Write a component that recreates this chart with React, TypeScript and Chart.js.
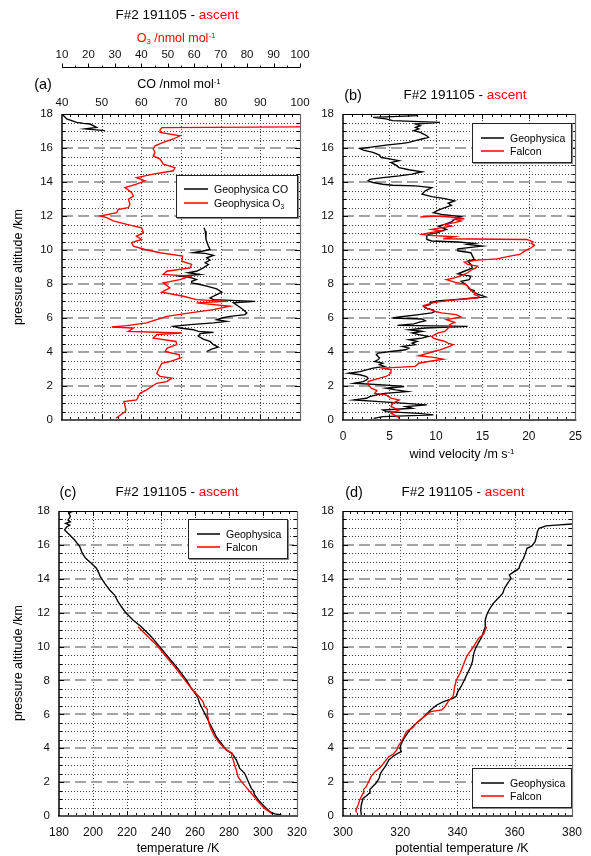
import React, { useEffect, useRef } from 'react';
import { Chart, registerables } from 'chart.js';
Chart.register(...registerables);

const FONT = '"Liberation Sans", Arial, Helvetica, sans-serif';

// ---------- Panel (a): CO and O3 profiles [altitude km, value] ----------
const o3Profile: [number, number][] = [
  [0.10, 30.4], [0.49, 33.8], [0.59, 34.2], [1.08, 33.4], [1.18, 38.2], [1.57, 39.5], [1.77, 42.0],
  [2.16, 45.8], [2.26, 49.6], [2.46, 51.5], [2.56, 47.1], [2.75, 45.8], [3.15, 47.1], [3.34, 47.7],
  [3.44, 50.8], [3.64, 54.6], [3.84, 54.4], [4.03, 49.0], [4.23, 49.8], [4.43, 53.4], [4.62, 53.1],
  [4.82, 44.5], [5.02, 45.8], [5.12, 55.3], [5.21, 35.1], [5.41, 37.0], [5.47, 28.8], [5.55, 34.5],
  [5.71, 42.0], [5.90, 45.8], [6.10, 49.6], [6.30, 58.4], [6.49, 67.2], [6.69, 73.5], [6.89, 60.9],
  [6.98, 72.3], [7.08, 60.9], [7.28, 55.9], [7.52, 47.7], [7.77, 50.8], [8.07, 48.3], [8.26, 54.6],
  [8.46, 58.4], [8.56, 48.3], [8.75, 49.6], [8.95, 58.4], [9.15, 59.0], [9.34, 55.3], [9.64, 55.6],
  [9.84, 47.1], [10.03, 41.4], [10.23, 37.0], [10.43, 36.3], [10.62, 40.1], [10.82, 38.2], [11.02, 40.8],
  [11.31, 40.1], [11.51, 34.5], [11.71, 29.4], [11.90, 26.9], [12.00, 24.4], [12.20, 30.7], [12.39, 31.3],
  [12.49, 35.1], [12.69, 35.7], [12.98, 35.1], [13.18, 37.0], [13.38, 36.3], [13.67, 33.8], [13.87, 38.2],
  [14.07, 41.4], [14.26, 38.2], [14.46, 44.5], [14.66, 52.1], [14.85, 52.7], [15.05, 48.3], [15.35, 47.1],
  [15.54, 44.5], [15.74, 45.2], [15.94, 44.5], [16.13, 45.2], [16.33, 48.3], [16.53, 52.1], [16.72, 54.6],
  [16.92, 47.1], [17.08, 47.1], [17.20, 47.8], [17.25, 108],
];
const coLower: [number, number][] = [
  [11.31, 75.8], [11.12, 76.1], [10.62, 76.3], [10.23, 76.9], [10.03, 77.3], [9.94, 75.5], [9.84, 73.1],
  [9.80, 76.1], [9.68, 78.2], [9.54, 76.5], [9.40, 77.3], [9.25, 76.1], [9.15, 76.9], [8.95, 75.6],
  [8.75, 73.9], [8.66, 71.8], [8.56, 74.8], [8.46, 69.7], [8.36, 72.7], [8.26, 73.9], [8.16, 72.7],
  [8.07, 72.7], [7.97, 74.8], [7.87, 76.5], [7.71, 79.0], [7.52, 80.3], [7.38, 79.0], [7.18, 77.3],
  [7.08, 78.2], [6.98, 88.7], [6.89, 83.2], [6.69, 84.5], [6.49, 85.7], [6.30, 86.6], [6.20, 86.1],
  [6.10, 82.4], [6.00, 80.3], [5.90, 79.0], [5.80, 81.5], [5.71, 78.2], [5.61, 72.3], [5.51, 68.1],
  [5.41, 69.7], [5.31, 73.1], [5.21, 74.4], [5.15, 78.2], [5.08, 74.8], [4.92, 74.4], [4.76, 75.6],
  [4.62, 77.3], [4.43, 78.2], [4.29, 79.4], [4.17, 77.7], [4.03, 76.5],
];
const coUpper: [number, number][] = [
  [18.0, 40.0], [17.71, 41.2], [17.51, 43.7], [17.45, 45.4], [17.41, 47.1], [17.21, 48.7],
  [17.12, 45.8], [17.02, 50.8],
];

// ---------- Panel (b): wind velocity [altitude km, m/s] ----------
const windGeophysica: [number, number][] = [
  [0.10, 3.30], [0.20, 4.28], [0.30, 9.73], [0.39, 8.15], [0.49, 4.63], [0.59, 4.28], [0.69, 7.44],
  [0.79, 6.74], [0.89, 9.02], [0.98, 6.74], [1.08, 3.93], [1.18, 1.19], [1.28, 2.53], [1.38, 2.88],
  [1.48, 3.58], [1.57, 4.46], [1.67, 6.92], [1.77, 5.69], [1.87, 4.63], [1.97, 6.57], [2.07, 4.28],
  [2.16, 1.19], [2.26, 2.18], [2.36, 2.53], [2.46, 2.70], [2.56, 2.53], [2.66, 1.83], [2.75, 0.60],
  [2.85, 1.83], [2.95, 2.53], [3.05, 3.23], [3.15, 4.46], [3.25, 3.93], [3.34, 4.28], [3.44, 3.41],
  [3.54, 3.76], [3.64, 3.93], [3.84, 3.58], [3.93, 3.76], [4.03, 5.16], [4.13, 6.74], [4.23, 7.09],
  [4.33, 6.39], [4.43, 7.79], [4.52, 7.44], [4.62, 7.97], [4.72, 7.09], [4.82, 8.50], [4.92, 9.20],
  [5.02, 8.15], [5.12, 7.44], [5.21, 8.50], [5.31, 7.09], [5.41, 8.85], [5.51, 13.41], [5.57, 5.86],
  [5.65, 7.62], [5.74, 8.15], [5.84, 8.85], [5.94, 8.50], [6.00, 5.34], [6.06, 6.04], [6.20, 8.15],
  [6.30, 9.55], [6.39, 9.90], [6.49, 9.55], [6.59, 8.85], [6.69, 8.67], [6.79, 9.38], [6.92, 9.38],
  [7.02, 10.43], [7.08, 12.01], [7.16, 13.76], [7.24, 15.34], [7.38, 14.64], [7.48, 14.12], [7.61, 14.12],
  [7.71, 13.59], [7.87, 13.41], [8.03, 13.06], [8.16, 12.71], [8.26, 13.59], [8.46, 13.76], [8.60, 12.36],
  [8.75, 13.06], [8.95, 13.94], [9.15, 13.76], [9.34, 13.41], [9.44, 14.12], [9.64, 13.94], [9.84, 13.76],
  [9.94, 12.36], [10.07, 12.36], [10.23, 14.99], [10.33, 13.41], [10.39, 14.12], [10.47, 12.36], [10.53, 9.55],
  [10.62, 9.02], [10.82, 9.02], [10.92, 9.20], [11.02, 10.25], [11.12, 10.60], [11.21, 11.13], [11.41, 10.25],
  [11.51, 10.96], [11.65, 11.66], [11.80, 12.01], [11.96, 12.71], [12.10, 10.60], [12.20, 9.73], [12.35, 10.25],
  [12.49, 10.96], [12.63, 11.66], [12.75, 11.31], [12.89, 12.01], [13.02, 10.96], [13.14, 9.55], [13.28, 8.50],
  [13.48, 8.85], [13.67, 9.55], [13.77, 7.79], [13.81, 5.34], [13.87, 4.28], [13.97, 3.23], [14.07, 2.70],
  [14.16, 2.88], [14.26, 4.28], [14.36, 6.04], [14.46, 7.44], [14.56, 8.15], [14.60, 8.50], [14.72, 7.09],
  [14.85, 6.04], [14.99, 5.69], [15.15, 5.16], [15.25, 6.04], [15.35, 5.16], [15.44, 4.11], [15.58, 3.93],
  [15.74, 3.23], [15.88, 2.18], [15.97, 1.83], [16.07, 3.23], [16.17, 4.63], [16.27, 6.39], [16.33, 7.09],
  [16.43, 7.79], [16.53, 8.50], [16.62, 9.20], [16.72, 9.02], [16.82, 8.67], [16.92, 8.32], [17.02, 7.62],
  [17.12, 8.15], [17.21, 7.79], [17.31, 8.32], [17.41, 7.79], [17.51, 10.43], [17.61, 5.34], [17.71, 4.63],
  [17.80, 3.23], [17.90, 7.97], [18.00, 7.97],
];
const windFalcon: [number, number][] = [
  [0.10, 6.04], [0.20, 5.86], [0.39, 5.16], [0.59, 6.04], [0.79, 5.16], [0.98, 5.34], [1.18, 6.04],
  [1.28, 5.16], [1.48, 4.63], [1.57, 3.41], [1.73, 3.65], [1.87, 3.05], [2.07, 2.70], [2.26, 2.70],
  [2.40, 3.58], [2.56, 4.63], [2.75, 5.16], [2.95, 5.16], [3.05, 4.28], [3.15, 7.79], [3.25, 7.97],
  [3.34, 8.15], [3.44, 9.20], [3.58, 10.78], [3.68, 9.73], [3.78, 8.15], [3.90, 9.02], [4.03, 9.73],
  [4.13, 10.43], [4.33, 11.48], [4.43, 11.83], [4.52, 11.31], [4.62, 10.96], [4.72, 10.25], [4.82, 9.73],
  [4.92, 9.55], [5.02, 9.90], [5.12, 10.25], [5.21, 10.96], [5.41, 11.31], [5.51, 11.66], [5.61, 11.48],
  [5.74, 12.01], [5.90, 11.13], [6.06, 12.71], [6.20, 12.18], [6.30, 10.60], [6.39, 9.90], [6.53, 9.20],
  [6.63, 8.85], [6.73, 8.67], [6.85, 9.38], [6.92, 9.90], [7.02, 11.31], [7.12, 13.06], [7.18, 14.47],
  [7.28, 14.64], [7.38, 14.12], [7.48, 14.29], [7.61, 13.76], [7.77, 13.59], [7.97, 13.24], [8.11, 12.01],
  [8.26, 11.13], [8.36, 12.01], [8.50, 12.71], [8.66, 13.41], [8.81, 13.76], [8.95, 14.29], [9.05, 14.47],
  [9.15, 13.41], [9.29, 13.06], [9.40, 14.47], [9.48, 16.57], [9.64, 17.98], [9.74, 19.03], [9.88, 19.38],
  [9.99, 19.73], [10.13, 20.26], [10.27, 20.61], [10.39, 20.26], [10.47, 20.44], [10.56, 20.08], [10.62, 19.73],
  [10.66, 10.78], [10.78, 12.01], [10.86, 9.20], [10.92, 8.50], [11.02, 9.38], [11.12, 10.60], [11.21, 9.55],
  [11.31, 10.60], [11.41, 11.66], [11.51, 10.96], [11.61, 12.01], [11.71, 12.71], [11.80, 12.01], [11.84, 13.06],
  [11.94, 11.66], [12.00, 9.90], [11.94, 8.32],
];

// ---------- Panel (c): temperature [altitude km, K] ----------
const tempGeophysica: [number, number][] = [
  [0.06, 310.8], [0.12, 306.9], [0.26, 303.9], [0.55, 301.0], [0.85, 298.0], [1.24, 295.1], [1.53, 294.1],
  [1.63, 293.1], [1.93, 291.8], [2.52, 289.2], [2.81, 286.3], [3.31, 284.3], [3.60, 282.4], [3.70, 281.4],
  [3.90, 278.4], [4.29, 275.5], [4.68, 272.5], [5.08, 270.6], [5.47, 268.6], [5.86, 266.7], [6.26, 264.7],
  [6.65, 262.7], [6.94, 261.8], [7.14, 260.8], [7.54, 257.8], [8.03, 254.9], [8.42, 252.0], [8.81, 249.0],
  [9.40, 244.1], [10.0, 239.2], [10.58, 234.3], [11.17, 228.4], [11.57, 223.5], [11.96, 219.6], [12.35, 216.7],
  [12.65, 214.7], [13.04, 212.7], [13.34, 209.8], [13.73, 206.9], [14.13, 204.3], [14.32, 203.5], [14.62, 202.0],
  [14.91, 199.0], [15.21, 195.7], [15.50, 193.7], [15.90, 192.2], [16.29, 189.2], [16.58, 186.3], [16.88, 183.3],
  [17.04, 184.3], [17.17, 186.3], [17.27, 183.9], [17.37, 186.7], [17.47, 185.3], [17.67, 186.7], [17.86, 185.9],
  [17.96, 187.3], [18.0, 191.2],
];
const tempFalcon: [number, number][] = [
  [0.12, 305.5], [0.16, 304.9], [0.45, 301.0], [0.85, 297.1], [1.34, 293.1], [1.73, 289.8], [2.03, 287.3],
  [2.32, 285.3], [2.71, 284.3], [3.01, 283.3], [3.34, 282.4], [3.50, 281.4], [3.70, 282.0], [3.90, 278.4],
  [4.29, 274.5], [4.68, 271.6], [5.08, 269.6], [5.47, 268.2], [5.86, 267.6], [6.30, 267.3], [6.45, 265.7],
  [6.75, 264.7], [7.04, 262.4], [7.54, 257.8], [8.03, 253.9], [8.42, 251.0], [8.81, 248.0], [9.40, 243.1],
  [10.0, 238.2], [10.39, 234.3], [10.68, 231.4], [10.98, 228.4], [11.17, 226.5],
];

// ---------- Panel (d): potential temperature [altitude km, K] ----------
const thetaGeophysica: [number, number][] = [
  [0.06, 306.4], [0.35, 306.2], [0.65, 306.4], [1.04, 307.0], [1.18, 308.1], [1.34, 309.2], [1.57, 309.4],
  [1.73, 310.3], [1.93, 311.5], [2.22, 312.6], [2.52, 313.1], [2.81, 314.3], [3.01, 315.1], [3.31, 316.0],
  [3.54, 317.6], [3.70, 319.1], [3.80, 320.4], [3.99, 319.9], [4.19, 320.2], [4.49, 321.0], [4.78, 322.1],
  [5.08, 323.3], [5.37, 324.9], [5.67, 327.0], [5.96, 328.9], [6.26, 330.6], [6.55, 332.8], [6.75, 335.1],
  [6.94, 338.4], [7.08, 339.6], [7.34, 340.1], [7.63, 341.2], [8.03, 342.4], [8.42, 343.5], [8.81, 344.6],
  [9.11, 345.2], [9.60, 345.7], [9.90, 346.3], [10.19, 347.2], [10.58, 348.5], [11.17, 349.7], [11.57, 349.7],
  [11.86, 350.2], [12.16, 351.0], [12.55, 352.5], [12.85, 354.2], [13.14, 355.8], [13.44, 356.4], [13.73, 357.5],
  [14.03, 358.7], [14.22, 358.1], [14.42, 359.8], [14.62, 361.5], [14.91, 362.0], [15.21, 363.1], [15.50, 363.7],
  [15.80, 364.3], [15.94, 366.0], [16.19, 367.1], [16.49, 367.6], [16.78, 367.9], [16.98, 368.5], [17.12, 371.0],
  [17.17, 374.4], [17.23, 380.0], [17.27, 386.0],
];
const thetaFalcon: [number, number][] = [
  [0.20, 304.7], [0.35, 304.5], [0.65, 305.3], [0.94, 305.8], [1.14, 306.4], [1.34, 307.0], [1.57, 307.2],
  [1.73, 308.1], [1.93, 308.7], [2.32, 309.8], [2.62, 311.2], [2.81, 312.6], [3.01, 313.7], [3.31, 315.1],
  [3.50, 316.0], [3.66, 317.6], [3.90, 318.8], [4.13, 319.3], [4.39, 320.4], [4.68, 321.3], [4.98, 322.1],
  [5.23, 324.4], [5.57, 326.1], [5.86, 328.3], [6.16, 330.6], [6.26, 334.5], [6.45, 335.6], [6.75, 336.7],
  [7.04, 338.4], [7.24, 338.7], [7.63, 339.0], [8.03, 339.6], [8.42, 340.9], [8.81, 341.8], [9.21, 342.7],
  [9.50, 343.5], [9.90, 345.2], [10.19, 346.3], [10.49, 347.4], [10.72, 349.1], [10.98, 349.7], [11.17, 350.2],
];

// axis ranges
const altRange = [0, 18];
const coRange = [40, 100];
const o3Range = [10, 100];
const windRange = [0, 25];
const tempRange = [180, 320];
const thetaRange = [300, 380];

const pts = (p: [number, number][]) => p.map(([alt, v]) => ({ x: v, y: alt }));

type FrameOpts = { xMajor: number; xMinor: number; o3Axis?: boolean };

function sigmaFrame(o: FrameOpts) {
  return {
    id: 'sigmaFrame',
    beforeDatasetsDraw(chart: any) {
      const { ctx, chartArea: a } = chart;
      const xs = chart.scales.x;
      const ys = chart.scales.y;
      ctx.save();
      const nMaj = Math.round((xs.max - xs.min) / o.xMajor);
      for (let i = 1; i < nMaj; i++) {
        const px = Math.round(xs.getPixelForValue(xs.min + i * o.xMajor)) + 0.5;
        ctx.beginPath();
        ctx.setLineDash([1, 2]);
        ctx.strokeStyle = '#444';
        ctx.lineWidth = 1;
        ctx.moveTo(px, a.top);
        ctx.lineTo(px, a.bottom);
        ctx.stroke();
      }
      for (let k = 1; k * 0.5 < ys.max; k++) {
        const py = ys.getPixelForValue(k * 0.5);
        ctx.beginPath();
        if (k % 4 === 0) {
          ctx.setLineDash([11, 5]);
          ctx.strokeStyle = '#a4a4a4';
          ctx.lineWidth = 2;
          ctx.moveTo(a.left, Math.round(py));
          ctx.lineTo(a.right, Math.round(py));
        } else {
          ctx.setLineDash([1, 2]);
          ctx.strokeStyle = '#444';
          ctx.lineWidth = 1;
          ctx.moveTo(a.left, Math.round(py) + 0.5);
          ctx.lineTo(a.right, Math.round(py) + 0.5);
        }
        ctx.stroke();
      }
      ctx.restore();
    },
    afterDatasetsDraw(chart: any) {
      const { ctx, chartArea: a } = chart;
      const xs = chart.scales.x;
      const ys = chart.scales.y;
      ctx.save();
      ctx.setLineDash([]);
      ctx.strokeStyle = '#000';
      ctx.lineWidth = 1;
      ctx.beginPath();
      for (let k = 1; k * 0.5 < ys.max; k++) {
        const py = Math.round(ys.getPixelForValue(k * 0.5)) + 0.5;
        const len = k % 4 === 0 ? 5 : 3;
        ctx.moveTo(a.left, py); ctx.lineTo(a.left + len, py);
        ctx.moveTo(a.right, py); ctx.lineTo(a.right - len, py);
      }
      const n = Math.round((xs.max - xs.min) / o.xMinor);
      for (let i = 1; i < n; i++) {
        const v = xs.min + i * o.xMinor;
        const px = Math.round(xs.getPixelForValue(v)) + 0.5;
        const r = v / o.xMajor;
        const len = Math.abs(r - Math.round(r)) < 1e-6 ? 5 : 3;
        ctx.moveTo(px, a.top); ctx.lineTo(px, a.top + len);
        ctx.moveTo(px, a.bottom); ctx.lineTo(px, a.bottom - len);
      }
      ctx.stroke();
      ctx.beginPath();
      ctx.strokeStyle = '#000';
      ctx.lineWidth = 1;
      ctx.moveTo(a.left, Math.round(a.top) + 0.5); ctx.lineTo(a.right, Math.round(a.top) + 0.5);
      ctx.stroke();
      ctx.beginPath();
      ctx.strokeStyle = '#6a6a6a';
      ctx.lineWidth = 1.2;
      ctx.moveTo(Math.round(a.right) + 0.5, a.top); ctx.lineTo(Math.round(a.right) + 0.5, a.bottom);
      ctx.stroke();
      ctx.beginPath();
      ctx.strokeStyle = '#555';
      ctx.lineWidth = 2;
      ctx.moveTo(a.left - 1, Math.round(a.bottom)); ctx.lineTo(a.right + 1, Math.round(a.bottom));
      ctx.stroke();
      ctx.beginPath();
      ctx.strokeStyle = '#000';
      ctx.lineWidth = 1.5;
      ctx.moveTo(Math.round(a.left), a.top); ctx.lineTo(Math.round(a.left), a.bottom);
      ctx.stroke();
      if (o.o3Axis) {
        const x2 = chart.scales.x2;
        const yb = Math.round(x2.bottom) + 0.5;
        ctx.beginPath();
        ctx.strokeStyle = '#000';
        ctx.lineWidth = 1;
        ctx.moveTo(a.left, yb); ctx.lineTo(a.right, yb);
        for (let v = x2.min; v <= x2.max + 1e-6; v += 5) {
          const px = Math.round(x2.getPixelForValue(v)) + 0.5;
          const len = Math.abs(v % 10) < 1e-6 ? 4 : 2;
          ctx.moveTo(px, yb); ctx.lineTo(px, yb - len);
        }
        ctx.stroke();
      }
      ctx.restore();
    },
  };
}

const tickFont = (size: number) => ({ family: FONT, size });

function yScale(width: number) {
  return {
    type: 'linear', position: 'left', min: altRange[0], max: altRange[1],
    ticks: { stepSize: 2, font: tickFont(11.5), color: '#111', padding: 9 },
    grid: { display: false, drawTicks: false },
    border: { display: false },
    afterFit: (s: any) => { s.width = width; },
  };
}

function xBottom(range: number[], step: number) {
  return {
    type: 'linear', position: 'bottom', min: range[0], max: range[1],
    ticks: { stepSize: step, font: tickFont(12), color: '#111', padding: 9, maxRotation: 0, autoSkip: false },
    grid: { display: false, drawTicks: false },
    border: { display: false },
    afterFit: (s: any) => { s.height = 40; },
  };
}

const lineDs = (data: any[], color: string, extra: any = {}) => ({
  data, borderColor: color, backgroundColor: color, borderWidth: 1.35, pointRadius: 0,
  showLine: true, fill: false, tension: 0, ...extra,
});

const baseOpts = (padding: any) => ({
  responsive: false,
  animation: false,
  devicePixelRatio: 1,
  events: [],
  layout: { padding },
  plugins: { legend: { display: false }, tooltip: { enabled: false }, title: { display: false } },
});

function configA(): any {
  return {
    type: 'scatter',
    data: {
      datasets: [
        lineDs(pts(o3Profile), '#ff0000', { xAxisID: 'x2' }),
        lineDs(pts(coLower), '#000000'),
        lineDs(pts(coUpper), '#000000'),
      ],
    },
    options: {
      ...baseOpts({ left: 0, top: 0, right: 20, bottom: 20 }),
      scales: {
        x: {
          type: 'linear', position: 'top', min: coRange[0], max: coRange[1], weight: 0,
          ticks: { stepSize: 10, font: tickFont(11.5), color: '#111', padding: 4, maxRotation: 0, autoSkip: false },
          grid: { display: false, drawTicks: false }, border: { display: false },
          afterFit: (s: any) => { s.height = 47; },
        },
        x2: {
          type: 'linear', position: 'top', axis: 'x', min: o3Range[0], max: o3Range[1], weight: 1,
          ticks: { stepSize: 10, font: tickFont(11.5), color: '#111', padding: 5, maxRotation: 0, autoSkip: false },
          grid: { display: false, drawTicks: false }, border: { display: false },
          afterFit: (s: any) => { s.height = 67; },
        },
        y: yScale(62),
      },
    },
    plugins: [sigmaFrame({ xMajor: 10, xMinor: 2, o3Axis: true })],
  };
}

function configB(): any {
  return {
    type: 'scatter',
    data: { datasets: [lineDs(pts(windFalcon), '#ff0000'), lineDs(pts(windGeophysica), '#000000')] },
    options: {
      ...baseOpts({ left: 0, top: 34, right: 11, bottom: 0 }),
      scales: { x: xBottom(windRange, 5), y: yScale(42) },
    },
    plugins: [sigmaFrame({ xMajor: 5, xMinor: 1 })],
  };
}

function configC(): any {
  return {
    type: 'scatter',
    data: { datasets: [lineDs(pts(tempFalcon), '#ff0000'), lineDs(pts(tempGeophysica), '#000000')] },
    options: {
      ...baseOpts({ left: 0, top: 41, right: 23, bottom: 0 }),
      scales: { x: xBottom(tempRange, 20), y: yScale(59) },
    },
    plugins: [sigmaFrame({ xMajor: 20, xMinor: 5 })],
  };
}

function configD(): any {
  return {
    type: 'scatter',
    data: { datasets: [lineDs(pts(thetaFalcon), '#ff0000'), lineDs(pts(thetaGeophysica), '#000000')] },
    options: {
      ...baseOpts({ left: 0, top: 41, right: 11, bottom: 0 }),
      scales: { x: xBottom(thetaRange, 20), y: yScale(42) },
    },
    plugins: [sigmaFrame({ xMajor: 20, xMinor: 2.5 })],
  };
}

function Panel({ left, top, width, height, make }: { left: number; top: number; width: number; height: number; make: () => any }) {
  const ref = useRef<HTMLCanvasElement>(null);
  useEffect(() => {
    const chart = new Chart(ref.current as HTMLCanvasElement, make());
    return () => chart.destroy();
  }, []);
  return (
    <canvas ref={ref} width={width} height={height}
      style={{ position: 'absolute', left, top, width, height }} />
  );
}

function T({ x, y, size, color = '#000', rotate = false, children }: any) {
  return (
    <div style={{
      position: 'absolute', left: x, top: y, transform: `translate(-50%, -50%)${rotate ? ' rotate(-90deg)' : ''}`,
      fontFamily: FONT, fontSize: size, lineHeight: 1, whiteSpace: 'nowrap', color,
    }}>{children}</div>
  );
}

const Sup = ({ children }: any) => (
  <span style={{ fontSize: '0.62em', position: 'relative', top: '-0.55em' }}>{children}</span>
);
const Sub = ({ children }: any) => (
  <span style={{ fontSize: '0.62em', position: 'relative', top: '0.3em' }}>{children}</span>
);

function Title({ x, y }: { x: number; y: number }) {
  return <T x={x} y={y} size={13.5}>F#2 191105 - <span style={{ color: '#ff0000' }}>ascent</span></T>;
}

function Legend({ left, top, width, height, rows, rowY, lineX, textX }: any) {
  return (
    <div style={{
      position: 'absolute', left, top, width, height, boxSizing: 'border-box', background: '#fff',
      border: '1px solid #222', boxShadow: '1px 1px 0 #888',
    }}>
      {rows.map((r: any, i: number) => (
        <React.Fragment key={i}>
          <svg width={lineX[1] - lineX[0]} height={4}
            style={{ position: 'absolute', left: lineX[0], top: rowY[i] - 2, overflow: 'visible' }}>
            <line x1={0} y1={2} x2={lineX[1] - lineX[0]} y2={2} stroke={r.color} strokeWidth={1.5} />
          </svg>
          <div style={{
            position: 'absolute', left: textX, top: rowY[i], transform: 'translateY(-50%)', fontFamily: FONT,
            fontSize: 10.5, lineHeight: 1, whiteSpace: 'nowrap', color: '#000',
          }}>{r.label}</div>
        </React.Fragment>
      ))}
    </div>
  );
}

export default function App() {
  const units = <>/nmol mol<Sup>-1</Sup></>;
  return (
    <div style={{ position: 'absolute', left: 0, top: 0, width: 591, height: 856, background: '#fff', overflow: 'hidden' }}>
      <Panel left={0} top={0} width={320} height={440} make={configA} />
      <Panel left={301} top={80} width={290} height={380} make={configB} />
      <Panel left={0} top={470} width={320} height={386} make={configC} />
      <Panel left={301} top={470} width={290} height={386} make={configD} />

      <Title x={177} y={15} />
      <T x={176} y={38} size={12.5} color="#ff0000">O<Sub>3</Sub> {units}</T>
      <T x={43} y={84} size={14.5}>(a)</T>
      <T x={179} y={84} size={12.5}>CO {units}</T>
      <T x={18} y={267} size={12.5} rotate>pressure altitude /km</T>

      <T x={353} y={95} size={14.5}>(b)</T>
      <Title x={465} y={95} />
      <T x={462} y={454} size={12.5}>wind velocity /m s<Sup>-1</Sup></T>

      <T x={68} y={492} size={14.5}>(c)</T>
      <Title x={177} y={492} />
      <T x={18} y={663} size={12.5} rotate>pressure altitude /km</T>
      <T x={178} y={848} size={12.5}>temperature /K</T>

      <T x={354} y={492} size={14.5}>(d)</T>
      <Title x={463} y={492} />
      <T x={462} y={848} size={12.5}>potential temperature /K</T>

      <Legend left={176} top={175} width={122} height={43} rowY={[13, 27]} lineX={[7, 31]} textX={37}
        rows={[{ color: '#000', label: 'Geophysica CO' }, { color: '#ff0000', label: <>Geophysica O<Sub>3</Sub></> }]} />
      <Legend left={472} top={123} width={100} height={40} rowY={[14, 27]} lineX={[8, 31]} textX={37}
        rows={[{ color: '#000', label: 'Geophysica' }, { color: '#ff0000', label: 'Falcon' }]} />
      <Legend left={188} top={519} width={100} height={40} rowY={[14, 27]} lineX={[8, 31]} textX={37}
        rows={[{ color: '#000', label: 'Geophysica' }, { color: '#ff0000', label: 'Falcon' }]} />
      <Legend left={472} top={768} width={100} height={40} rowY={[14, 27]} lineX={[8, 31]} textX={37}
        rows={[{ color: '#000', label: 'Geophysica' }, { color: '#ff0000', label: 'Falcon' }]} />
    </div>
  );
}
